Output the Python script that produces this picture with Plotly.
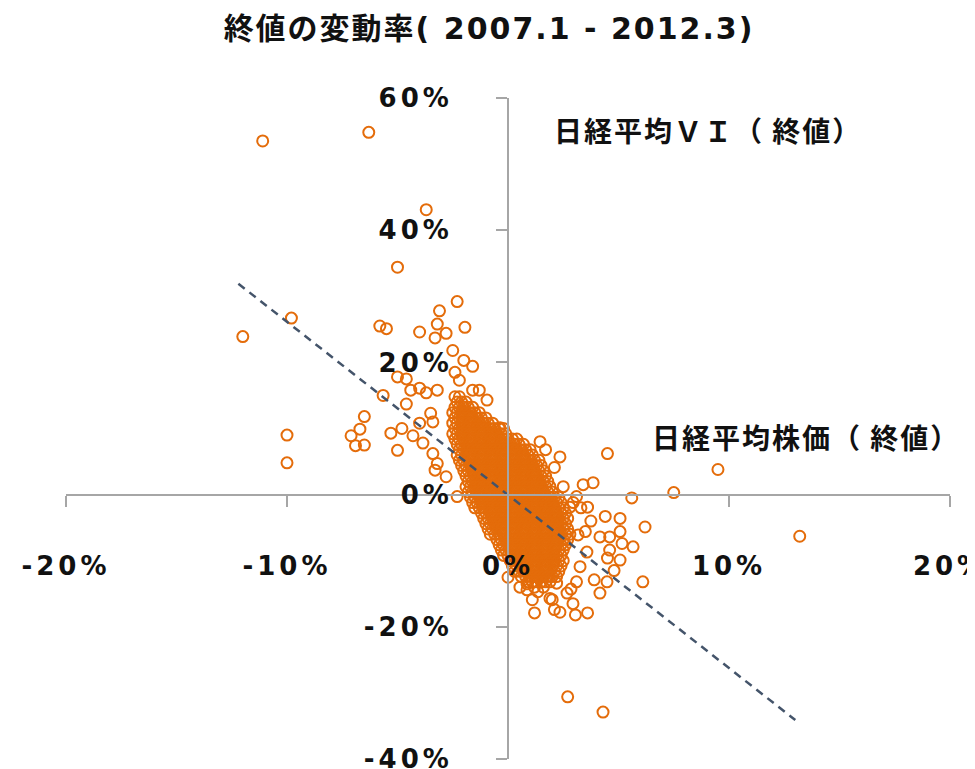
import plotly.graph_objects as go

# ---- data (percent daily change) ----
# dense core of the cloud: rows of (VI change, [Nikkei change values])
core_rows = [
    (14.8, [-2.4, -2.2]),
    (14.0, [-2.3, -2.1, -1.9]),
    (13.2, [-2.4, -2.2, -2.0, -1.8, -1.6]),
    (12.4, [-2.5, -2.3, -2.1, -1.9, -1.7, -1.5, -1.3]),
    (11.6, [-2.4, -2.2, -2.0, -1.8, -1.6, -1.4, -1.2, -1.0]),
    (10.8, [-2.5, -2.3, -2.1, -1.9, -1.7, -1.5, -1.3, -1.1, -0.9, -0.7]),
    (10.0, [-2.4, -2.2, -2.0, -1.8, -1.6, -1.4, -1.2, -1.0, -0.8, -0.6, -0.4]),
    (9.2, [-2.5, -2.3, -2.1, -1.9, -1.7, -1.5, -1.3, -1.1, -0.9, -0.7, -0.5, -0.3, -0.1]),
    (8.4, [-2.4, -2.2, -2.0, -1.8, -1.6, -1.4, -1.2, -1.0, -0.8, -0.6, -0.4, -0.2, 0.0, 0.2, 0.4]),
    (7.6, [-2.3, -2.1, -1.9, -1.7, -1.5, -1.3, -1.1, -0.9, -0.7, -0.5, -0.3, -0.1, 0.1, 0.3, 0.5, 0.7]),
    (6.8, [-2.2, -2.0, -1.8, -1.6, -1.4, -1.2, -1.0, -0.8, -0.6, -0.4, -0.2, 0.0, 0.2, 0.4, 0.6, 0.8, 1.0]),
    (6.0, [-2.3, -2.1, -1.9, -1.7, -1.5, -1.3, -1.1, -0.9, -0.7, -0.5, -0.3, -0.1, 0.1, 0.3, 0.5, 0.7, 0.9, 1.1]),
    (5.2, [-2.2, -2.0, -1.8, -1.6, -1.4, -1.2, -1.0, -0.8, -0.6, -0.4, -0.2, 0.0, 0.2, 0.4, 0.6, 0.8, 1.0, 1.2, 1.4]),
    (4.4, [-2.1, -1.9, -1.7, -1.5, -1.3, -1.1, -0.9, -0.7, -0.5, -0.3, -0.1, 0.1, 0.3, 0.5, 0.7, 0.9, 1.1, 1.3, 1.5]),
    (3.6, [-2.0, -1.8, -1.6, -1.4, -1.2, -1.0, -0.8, -0.6, -0.4, -0.2, 0.0, 0.2, 0.4, 0.6, 0.8, 1.0, 1.2, 1.4, 1.6]),
    (2.8, [-1.9, -1.7, -1.5, -1.3, -1.1, -0.9, -0.7, -0.5, -0.3, -0.1, 0.1, 0.3, 0.5, 0.7, 0.9, 1.1, 1.3, 1.5, 1.7]),
    (2.0, [-1.8, -1.6, -1.4, -1.2, -1.0, -0.8, -0.6, -0.4, -0.2, 0.0, 0.2, 0.4, 0.6, 0.8, 1.0, 1.2, 1.4, 1.6, 1.8]),
    (1.2, [-1.9, -1.7, -1.5, -1.3, -1.1, -0.9, -0.7, -0.5, -0.3, -0.1, 0.1, 0.3, 0.5, 0.7, 0.9, 1.1, 1.3, 1.5, 1.7, 1.9]),
    (0.4, [-1.8, -1.6, -1.4, -1.2, -1.0, -0.8, -0.6, -0.4, -0.2, 0.0, 0.2, 0.4, 0.6, 0.8, 1.0, 1.2, 1.4, 1.6, 1.8, 2.0]),
    (-0.4, [-1.7, -1.5, -1.3, -1.1, -0.9, -0.7, -0.5, -0.3, -0.1, 0.1, 0.3, 0.5, 0.7, 0.9, 1.1, 1.3, 1.5, 1.7, 1.9, 2.1, 2.3]),
    (-1.2, [-1.6, -1.4, -1.2, -1.0, -0.8, -0.6, -0.4, -0.2, 0.0, 0.2, 0.4, 0.6, 0.8, 1.0, 1.2, 1.4, 1.6, 1.8, 2.0, 2.2, 2.4]),
    (-2.0, [-1.5, -1.3, -1.1, -0.9, -0.7, -0.5, -0.3, -0.1, 0.1, 0.3, 0.5, 0.7, 0.9, 1.1, 1.3, 1.5, 1.7, 1.9, 2.1, 2.3, 2.5]),
    (-2.8, [-1.2, -1.0, -0.8, -0.6, -0.4, -0.2, 0.0, 0.2, 0.4, 0.6, 0.8, 1.0, 1.2, 1.4, 1.6, 1.8, 2.0, 2.2, 2.4, 2.6]),
    (-3.6, [-1.1, -0.9, -0.7, -0.5, -0.3, -0.1, 0.1, 0.3, 0.5, 0.7, 0.9, 1.1, 1.3, 1.5, 1.7, 1.9, 2.1, 2.3, 2.5, 2.7]),
    (-4.4, [-1.0, -0.8, -0.6, -0.4, -0.2, 0.0, 0.2, 0.4, 0.6, 0.8, 1.0, 1.2, 1.4, 1.6, 1.8, 2.0, 2.2, 2.4, 2.6]),
    (-5.2, [-0.9, -0.7, -0.5, -0.3, -0.1, 0.1, 0.3, 0.5, 0.7, 0.9, 1.1, 1.3, 1.5, 1.7, 1.9, 2.1, 2.3, 2.5, 2.7]),
    (-6.0, [-0.8, -0.6, -0.4, -0.2, 0.0, 0.2, 0.4, 0.6, 0.8, 1.0, 1.2, 1.4, 1.6, 1.8, 2.0, 2.2, 2.4, 2.6, 2.8]),
    (-6.8, [-0.5, -0.3, -0.1, 0.1, 0.3, 0.5, 0.7, 0.9, 1.1, 1.3, 1.5, 1.7, 1.9, 2.1, 2.3, 2.5, 2.7]),
    (-7.6, [-0.4, -0.2, 0.0, 0.2, 0.4, 0.6, 0.8, 1.0, 1.2, 1.4, 1.6, 1.8, 2.0, 2.2, 2.4, 2.6]),
    (-8.4, [-0.3, -0.1, 0.1, 0.3, 0.5, 0.7, 0.9, 1.1, 1.3, 1.5, 1.7, 1.9, 2.1, 2.3, 2.5]),
    (-9.2, [-0.2, 0.0, 0.2, 0.4, 0.6, 0.8, 1.0, 1.2, 1.4, 1.6, 1.8, 2.0, 2.2, 2.4]),
    (-10.0, [0.1, 0.3, 0.5, 0.7, 0.9, 1.1, 1.3, 1.5, 1.7, 1.9, 2.1, 2.3, 2.5]),
    (-10.8, [0.2, 0.4, 0.6, 0.8, 1.0, 1.2, 1.4, 1.6, 1.8, 2.0, 2.2, 2.4]),
    (-11.6, [0.3, 0.5, 0.7, 0.9, 1.1, 1.3, 1.5, 1.7, 1.9, 2.1, 2.3]),
    (-12.4, [0.6, 0.8, 1.0, 1.2, 1.4, 1.6, 1.8, 2.0, 2.2]),
    (-13.2, [0.9, 1.1, 1.3, 1.5, 1.7, 1.9]),
    (-14.0, [1.2, 1.6]),
]

# scattered points around the cloud
fringe_x = [-11.1, -6.3, -3.7, -5.0, -2.3, -3.1, -12.0, -9.8, -5.8, -5.5,
            -3.2, -4.0, -2.8, -1.95, -3.3, -2.5, -5.0, -4.6, -4.4, -4.0,
            -3.2, -3.7, -5.65, -4.6, -6.5, -6.7, -7.1, -6.9, -6.5, -5.3,
            -5.0, -4.8, -10.0, -10.0, -4.3, -3.85, -3.4, -3.2, -1.6, -2.0,
            -2.4, -2.2, -1.6, -3.4, -4.0, -1.3, -0.95, -0.36, -3.5, -2.8,
            -2.3, -3.3,
            -0.2, 1.45, 1.7, 2.35, 2.1, 4.5, 3.85, 3.4, 3.1, 2.5,
            5.6, 7.5, 3.6, 2.8, 2.95, 3.3, 4.4, 3.75, 5.07, 6.2,
            4.16, 4.6, 5.07, 5.16, 5.66, 3.17, 3.5, 3.57, 4.5, 5.07,
            4.8, 6.1, 3.9, 4.48, 3.1, 4.16, 2.67, 2.85, 2.0, 1.1,
            0.86, 1.2, 2.1, 3.6, 2.35, 2.94, 3.05, 0.0, 0.86, 1.35,
            1.9, 2.2, 3.26, 0.54, 4.6, 9.5, 13.2, 2.7, 4.3]
fringe_y = [53.5, 54.8, 43.1, 34.4, 29.2, 27.8, 23.9, 26.7, 25.5, 25.1,
            25.8, 24.6, 24.4, 25.3, 23.7, 21.8, 17.8, 17.5, 15.8, 16.1,
            15.8, 15.4, 15.0, 13.7, 11.8, 9.9, 8.9, 7.4, 7.5, 9.3,
            6.7, 10.0, 9.0, 4.8, 8.9, 7.8, 6.2, 4.7, 19.4, 20.3,
            18.5, 17.3, 15.8, 11.0, 10.8, 15.8, 14.3, 10.1, 12.3, 2.7,
            -0.3, 3.7,
            10.0, 8.0, 6.8, 5.7, 4.1, 6.2, 1.8, 1.5, -0.3, 1.2,
            -0.5, 0.3, -1.9, -1.9, -1.2, -2.0, -3.3, -4.0, -3.6, -4.9,
            -6.4, -6.4, -5.6, -7.4, -7.9, -6.1, -5.6, -8.7, -9.6, -9.9,
            -11.5, -13.2, -12.9, -13.2, -13.2, -14.9, -14.9, -14.3, -15.9, -15.9,
            -14.4, -17.9, -17.4, -17.9, -17.8, -16.5, -18.2, -12.5, -13.5, -14.7,
            -15.7, -13.4, -10.9, -14.0, -8.4, 3.8, -6.3, -30.6, -32.9]

# dashed linear trend line end points
trend_x = [-12.2, 13.0]
trend_y = [31.9, -34.1]

x_ticks = [-20, -10, 0, 10, 20]
x_tick_labels = ["-20%", "-10%", "0%", "10%", "20%"]
y_ticks = [-40, -20, 0, 20, 40, 60]
y_tick_labels = ["-40%", "-20%", "0%", "20%", "40%", "60%"]

title_text = "終値の変動率( 2007.1 - 2012.3)"
y_name = "日経平均ＶＩ（ 終値）"
x_name = "日経平均株価（ 終値）"

# ---- build ----
nikkei_x = [x for (_, xs) in core_rows for x in xs] + fringe_x
vi_y = [y for (y, xs) in core_rows for _ in xs] + fringe_y

ORANGE = "#E46C0A"
AXIS = "#A6A6A6"
FONT = "DejaVu Sans, Noto Sans CJK JP, sans-serif"
CJK = "Noto Sans CJK JP, sans-serif"


def spaced(t, px):
    return '<span style="letter-spacing:%dpx">%s</span>' % (px, t)


fig = go.Figure()
fig.add_trace(go.Scatter(
    x=nikkei_x, y=vi_y, mode="markers",
    marker=dict(symbol="circle-open", size=11, color=ORANGE,
                line=dict(width=2, color=ORANGE)),
    hoverinfo="skip",
))
fig.add_trace(go.Scatter(
    x=trend_x, y=trend_y, mode="lines",
    line=dict(color="#44546A", width=2.5, dash="8px,6px"),
    hoverinfo="skip",
))

tickfont = dict(family=FONT, size=26, color="#111111", weight="bold")

# page body has an 8px margin: the figure is sized/placed so the plot
# lands where it is in the reference window
W, H = 967, 761
fig.update_layout(
    width=W, height=H,
    margin=dict(l=58, r=25, t=90, b=10),
    paper_bgcolor="white", plot_bgcolor="white",
    showlegend=False,
    title=dict(text=spaced(title_text, 2), x=481 / W, xref="container", xanchor="center",
               y=1 - 20 / H, yref="container", yanchor="middle",
               font=dict(family=FONT, size=30, color="#111111", weight="bold")),
    xaxis=dict(range=[-20, 20], anchor="free", position=0.4,
               showline=True, linecolor=AXIS, linewidth=2,
               ticks="outside", ticklen=11, tickwidth=2, tickcolor=AXIS,
               tickvals=x_ticks, ticktext=[spaced(t, 4) for t in x_tick_labels],
               tickfont=tickfont, ticklabelstandoff=37, ticklabeloverflow="allow",
               showgrid=False, zeroline=False, automargin=False),
    yaxis=dict(range=[-40, 60], anchor="free", position=0.5,
               showline=True, linecolor=AXIS, linewidth=2,
               ticks="outside", ticklen=11, tickwidth=2, tickcolor=AXIS,
               tickvals=y_ticks, ticktext=[spaced(t, 4) for t in y_tick_labels],
               tickfont=tickfont, ticklabelstandoff=38, ticklabeloverflow="allow",
               showgrid=False, zeroline=False, automargin=False),
    annotations=[
        dict(text=spaced(y_name, 2), xref="paper", yref="paper",
             x=(708 - 66) / 884, y=(759 - 130) / 661,
             xanchor="center", yanchor="middle", showarrow=False,
             font=dict(family=CJK, size=28, color="#111111", weight="bold")),
        dict(text=spaced(x_name, 2), xref="paper", yref="paper",
             x=(806 - 66) / 884, y=(759 - 437) / 661,
             xanchor="center", yanchor="middle", showarrow=False,
             font=dict(family=CJK, size=28, color="#111111", weight="bold")),
    ],
)

fig.write_html("out.html")
